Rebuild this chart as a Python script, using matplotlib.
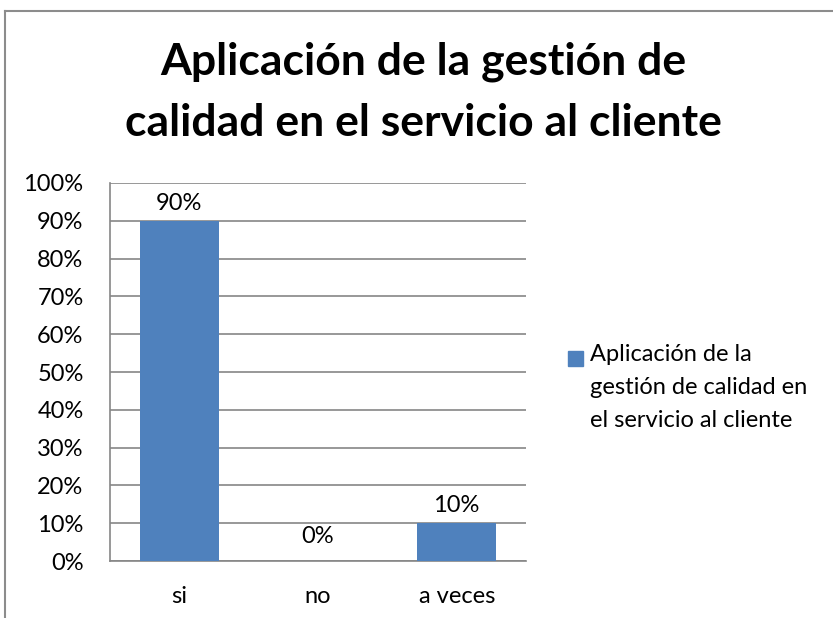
import matplotlib.pyplot as plt
from matplotlib.lines import Line2D
from matplotlib.patches import Rectangle

# data
categories = ['si', 'no', 'a veces']
values = [0.90, 0.00, 0.10]
labels = ['90%', '0%', '10%']
series_name = 'Aplicación de la\ngestión de calidad en\nel servicio al cliente'
title = 'Aplicación de la gestión de\ncalidad en el servicio al cliente'

plt.rcParams['font.family'] = ['Lato', 'DejaVu Sans']

W, H = 833, 618
fig = plt.figure(figsize=(W / 100, H / 100), dpi=100)
ax = fig.add_axes([0.132, 0.0922, 0.4995, 0.6117])

bar_color = '#4F81BD'
grid_color = '#868686'

x = range(len(categories))
bars = ax.bar(x, values, width=0.57, color=bar_color, zorder=3)

ax.set_xlim(-0.5, len(categories) - 0.5)
ax.set_ylim(0, 1.0)
ax.set_yticks([i / 10 for i in range(11)])
ax.set_yticklabels([f'{i * 10}%' for i in range(11)], fontsize=17)
ax.set_xticks(list(x))
ax.set_xticklabels(categories, fontsize=17)
ax.tick_params(axis='both', length=0)
ax.tick_params(axis='y', pad=19)
ax.tick_params(axis='x', pad=18)

ax.yaxis.grid(True, color=grid_color, linewidth=1.2, zorder=0)
for s in ['top', 'right']:
    ax.spines[s].set_visible(False)
for s in ['left', 'bottom']:
    ax.spines[s].set_color(grid_color)
    ax.spines[s].set_linewidth(1.2)

# data labels
for xi, v, lab in zip(x, values, labels):
    ax.annotate(lab, (xi, v), xytext=(0, 5 if v > 0 else 18), textcoords='offset points',
                ha='center', va='bottom' if v > 0 else 'center', fontsize=17)

fig.text(0.508, 0.851, title, ha='center', va='center', fontsize=32,
         fontweight='bold', linespacing=1.62)

# legend: square next to first line of the series name
fig.add_artist(Rectangle((568 / W, 1 - 366 / H), 15 / W, 15 / H,
                         transform=fig.transFigure, color=bar_color))
fig.text(590 / W, 1 - 344 / H, series_name, ha='left', va='top', fontsize=17,
         linespacing=1.72)

# chart border (top and left only visible)
fig.add_artist(Line2D([0.006, 1.0], [0.982, 0.982], transform=fig.transFigure,
                      color='#8c8c8c', linewidth=1.5))
fig.add_artist(Line2D([0.006, 0.006], [0.0, 0.982], transform=fig.transFigure,
                      color='#8c8c8c', linewidth=1.5))

fig.savefig('out.png', dpi=100)
